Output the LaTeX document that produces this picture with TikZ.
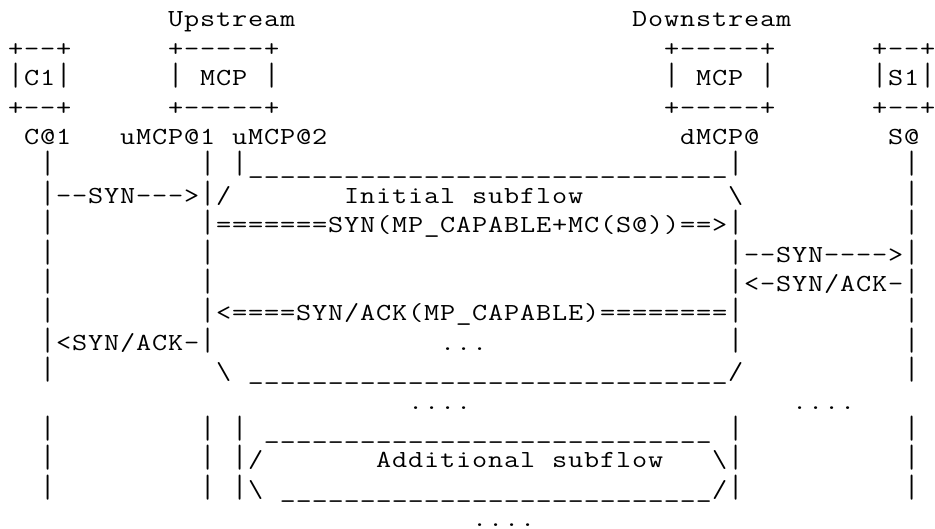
\documentclass[tikz,border=0pt]{standalone}
\usepackage{graphicx}
\def\barch{|}
\def\usch{\_}
\makeatletter
\newcommand\monorun[1]{\@tfor\mch:=#1\do{\makebox[16pt]{%
  \ifx\mch\barch\scalebox{1.2}[1.32]{|}%
  \else\ifx\mch\usch\scalebox{1.26}[1]{\_}%
  \else\scalebox{1.2}[1]{\mch}\fi\fi}}}
\makeatother
\tikzset{
  asc/.style={anchor=base west, inner sep=0pt, outer sep=0pt,
    font=\ttfamily\fontsize{24.5}{29}\selectfont}
}
\newcommand\seg[4]{\node[asc] (#1) at ({(7.7+16*#2)*1pt},{-(27+29.4*(#3-1))*1pt}) {\monorun{#4}};}
\begin{document}
\begin{tikzpicture}
\useasboundingbox[fill=white] (0,0) rectangle (935pt,-529pt);
% row 1
\seg{up}{10}{1}{Upstream}
\seg{down}{39}{1}{Downstream}
% row 2-4 boxes
\seg{cbt}{0}{2}{+--+}
\seg{umbt}{10}{2}{+-----+}
\seg{dmbt}{41}{2}{+-----+}
\seg{sbt}{54}{2}{+--+}
\seg{cbm}{0}{3}{|C1|}
\seg{umbm}{10}{3}{|\ MCP\ |}
\seg{dmbm}{41}{3}{|\ MCP\ |}
\seg{sbm}{54}{3}{|S1|}
\seg{cbb}{0}{4}{+--+}
\seg{umbb}{10}{4}{+-----+}
\seg{dmbb}{41}{4}{+-----+}
\seg{sbb}{54}{4}{+--+}
% row 5 addresses
\seg{ca}{1}{5}{C@1}
\seg{uma}{7}{5}{uMCP@1}
\seg{umb}{14}{5}{uMCP@2}
\seg{dma}{42}{5}{dMCP@}
\seg{sa}{55}{5}{S@}
% row 6
\seg{r6a}{2}{6}{|}
\seg{r6b}{12}{6}{|}
\seg{r6c}{14}{6}{|\_\_\_\_\_\_\_\_\_\_\_\_\_\_\_\_\_\_\_\_\_\_\_\_\_\_\_\_\_\_|}
\seg{r6d}{56}{6}{|}
% row 7
\seg{r7a}{2}{7}{|--SYN--->|/}
\seg{r7b}{21}{7}{Initial\ subflow}
\seg{r7c}{45}{7}{\textbackslash}
\seg{r7d}{56}{7}{|}
% row 8
\seg{r8a}{2}{8}{|}
\seg{r8b}{12}{8}{|=======SYN(MP\_CAPABLE+MC(S@))==>|}
\seg{r8c}{56}{8}{|}
% row 9
\seg{r9a}{2}{9}{|}
\seg{r9b}{12}{9}{|}
\seg{r9c}{45}{9}{|--SYN---->|}
% row 10
\seg{r10a}{2}{10}{|}
\seg{r10b}{12}{10}{|}
\seg{r10c}{45}{10}{|<-SYN/ACK-|}
% row 11
\seg{r11a}{2}{11}{|}
\seg{r11b}{12}{11}{|<====SYN/ACK(MP\_CAPABLE)========|}
\seg{r11c}{56}{11}{|}
% row 12
\seg{r12a}{2}{12}{|<SYN/ACK-|}
\seg{r12b}{27}{12}{...}
\seg{r12c}{45}{12}{|}
\seg{r12d}{56}{12}{|}
% row 13
\seg{r13a}{2}{13}{|}
\seg{r13b}{13}{13}{\textbackslash\ \_\_\_\_\_\_\_\_\_\_\_\_\_\_\_\_\_\_\_\_\_\_\_\_\_\_\_\_\_\_/}
\seg{r13c}{56}{13}{|}
% row 14
\seg{r14a}{25}{14}{....}
\seg{r14b}{49}{14}{....}
% row 15
\seg{r15a}{2}{15}{|}
\seg{r15b}{12}{15}{|}
\seg{r15c}{14}{15}{|}
\seg{r15d}{16}{15}{\_\_\_\_\_\_\_\_\_\_\_\_\_\_\_\_\_\_\_\_\_\_\_\_\_\_\_\_}
\seg{r15e}{45}{15}{|}
\seg{r15f}{56}{15}{|}
% row 16
\seg{r16a}{2}{16}{|}
\seg{r16b}{12}{16}{|}
\seg{r16c}{14}{16}{|/}
\seg{r16d}{23}{16}{Additional\ subflow}
\seg{r16e}{44}{16}{\textbackslash|}
\seg{r16f}{56}{16}{|}
% row 17
\seg{r17a}{2}{17}{|}
\seg{r17b}{12}{17}{|}
\seg{r17c}{14}{17}{|\textbackslash\ \_\_\_\_\_\_\_\_\_\_\_\_\_\_\_\_\_\_\_\_\_\_\_\_\_\_\_/|}
\seg{r17d}{56}{17}{|}
% row 18
\seg{r18a}{29}{18}{....}
\end{tikzpicture}
\end{document}
